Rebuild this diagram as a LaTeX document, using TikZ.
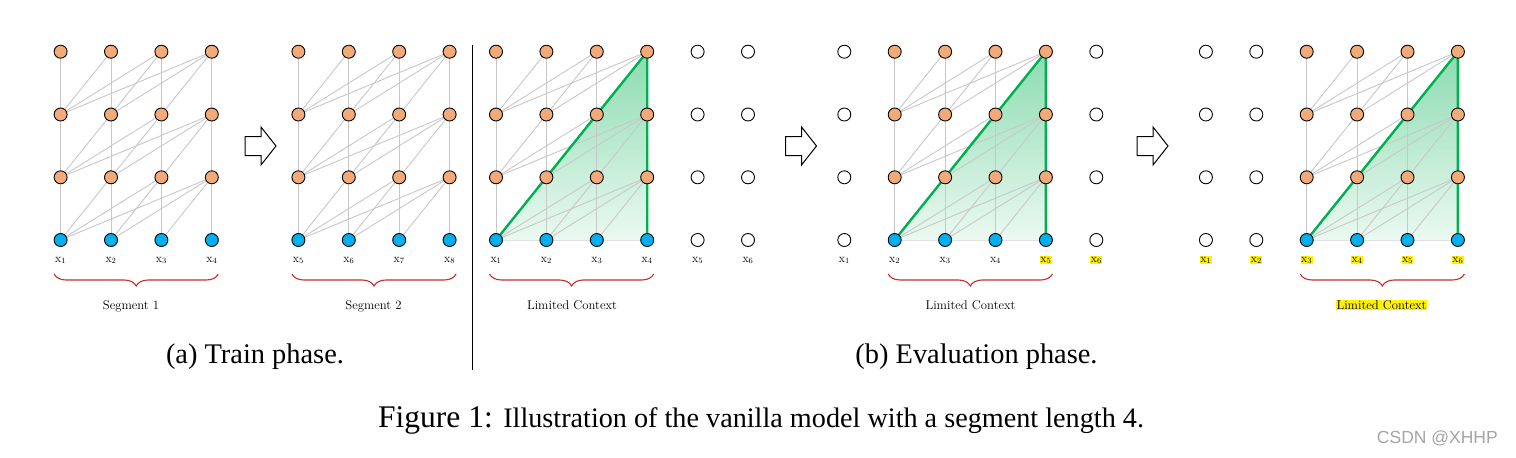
\documentclass[tikz,border=0pt]{standalone}
\usepackage{fontspec}
\usetikzlibrary{decorations.pathreplacing}
\newfontfamily\tms{Liberation Serif}
\newfontfamily\wmk{Liberation Sans}
\definecolor{nodeor}{RGB}{243,170,121}
\definecolor{nodebl}{RGB}{0,176,240}
\definecolor{edgegr}{RGB}{200,200,200}
\definecolor{ctxgreen}{RGB}{0,176,80}
\definecolor{bracered}{RGB}{200,45,45}
\definecolor{wmgray}{RGB}{165,165,165}
\pgfdeclarelayer{paper}
\pgfdeclarelayer{shade}
\pgfdeclarelayer{edges}
\pgfdeclarelayer{hl}
\pgfsetlayers{paper,shade,edges,hl,main}
\tikzset{
  hid/.style={circle,draw=black,line width=0.9pt,fill=nodeor,minimum size=13pt,inner sep=0pt},
  inp/.style={circle,draw=black,line width=0.9pt,fill=nodebl,minimum size=13pt,inner sep=0pt},
  emp/.style={circle,draw=black,line width=0.9pt,fill=white,minimum size=13pt,inner sep=0pt},
  edge/.style={draw=edgegr,line width=0.9pt},
  gline/.style={draw=ctxgreen,line width=2.4pt,line join=miter},
  ctxshade/.style={top color=ctxgreen!45!white,bottom color=ctxgreen!8!white,draw=none},
  lab/.style={inner sep=0.4pt,anchor=base,font=\fontsize{12}{14}\selectfont},
  hlab/.style={lab,fill=yellow},
  segbrace/.style={draw=bracered,line width=1.1pt,decorate,decoration={brace,mirror,amplitude=12pt}},
  seglab/.style={inner sep=0.5pt,anchor=base,font=\fontsize{12.7}{15}\selectfont},
  barrow/.style={draw=black,line width=1pt,fill=white,line join=miter},
  captxt/.style={inner sep=0pt,anchor=base,font=\tms\fontsize{28.4}{32}\selectfont},
}
% #1 name, #2 x0, #3 ncols, #4 first active col, #5 last active col
\newcommand{\mkpanel}[5]{%
  \foreach \c in {1,...,#3}{%
    \pgfmathsetmacro\xx{#2+(\c-1)*50.4}%
    \pgfmathtruncatemacro\act{and(\c>=#4,\c<=#5)}%
    \foreach \r/\yy in {1/240,2/177.3,3/114.5,4/51.7}{%
      \ifnum\act=1
        \ifnum\r=1
          \node[inp] (#1-\c-\r) at (\xx,\yy) {};
        \else
          \node[hid] (#1-\c-\r) at (\xx,\yy) {};
        \fi
      \else
        \node[emp] (#1-\c-\r) at (\xx,\yy) {};
      \fi
    }%
  }%
  \begin{pgfonlayer}{edges}
  \foreach \j in {#4,...,#5}{%
    \foreach \r in {1,2,3}{%
      \pgfmathtruncatemacro\rr{\r+1}%
      \foreach \i in {#4,...,\j}{%
        \draw[edge] (#1-\j-\rr.center) -- (#1-\i-\r.center);
      }%
    }%
  }%
  \end{pgfonlayer}
}
\newcommand{\ctx}[3]{% name, first col, last col
  \begin{pgfonlayer}{shade}
    \fill[ctxshade] (#1-#2-1.center) -- (#1-#3-4.center) -- (#1-#3-1.center) -- cycle;
  \end{pgfonlayer}
  \begin{pgfonlayer}{hl}
    \draw[gline] (#1-#2-1.center) -- (#1-#3-4.center) -- (#1-#3-1.center);
  \end{pgfonlayer}
}
\newcommand{\blockarrow}[2]{%
  \draw[barrow,shift={(#1,#2)}] (0,-9.5) -- (16,-9.5) -- (16,-19) -- (31,0) -- (16,19) -- (16,9.5) -- (0,9.5) -- cycle;
}
\begin{document}
\begin{tikzpicture}[x=1pt,y=-1pt]
\useasboundingbox (0,0) rectangle (1516,458);
\begin{pgfonlayer}{paper}
\fill[white] (0,0) rectangle (1516,458);
\end{pgfonlayer}

% ---------- panel A : segment 1 ----------
\mkpanel{A}{60.6}{4}{1}{4}
\foreach \c in {1,...,4}{ \node[lab] (A-l\c) at ([yshift=-22pt]A-\c-1.center) {$\mathrm{x}_{\c}$}; }
\coordinate (A-bl) at ([xshift=-6.5pt,yshift=-34pt]A-1-1.center);
\coordinate (A-br) at ([xshift=6.5pt,yshift=-34pt]A-4-1.center);
\draw[segbrace] (A-bl) -- (A-br);
\node[seglab] (A-seg) at (131,309) {Segment 1};

% ---------- panel B : segment 2 ----------
\mkpanel{B}{298.4}{4}{1}{4}
\foreach \c/\n in {1/5,2/6,3/7,4/8}{ \node[lab] (B-l\c) at ([yshift=-22pt]B-\c-1.center) {$\mathrm{x}_{\n}$}; }
\coordinate (B-bl) at ([xshift=-6.5pt,yshift=-34pt]B-1-1.center);
\coordinate (B-br) at ([xshift=6.5pt,yshift=-34pt]B-4-1.center);
\draw[segbrace] (B-bl) -- (B-br);
\node[seglab] (B-seg) at (373.5,309) {Segment 2};

% arrows
\blockarrow{245}{146}
\blockarrow{785.5}{146}
\blockarrow{1137}{146}

% separator
\draw[line width=0.9pt] (472,45) -- (472,370);

% ---------- panel C : eval step 1 ----------
\mkpanel{C}{496}{6}{1}{4}
\ctx{C}{1}{4}
\foreach \c in {1,...,6}{ \node[lab] (C-l\c) at ([yshift=-22pt]C-\c-1.center) {$\mathrm{x}_{\c}$}; }
\coordinate (C-bl) at ([xshift=-6.5pt,yshift=-34pt]C-1-1.center);
\coordinate (C-br) at ([xshift=6.5pt,yshift=-34pt]C-4-1.center);
\draw[segbrace] (C-bl) -- (C-br);
\node[seglab] (C-seg) at (572,309) {Limited Context};

% ---------- panel D : eval step 2 ----------
\mkpanel{D}{844.3}{6}{2}{5}
\ctx{D}{2}{5}
\foreach \c in {1,...,4}{ \node[lab] (D-l\c) at ([yshift=-22pt]D-\c-1.center) {$\mathrm{x}_{\c}$}; }
\foreach \c in {5,6}{ \node[hlab] (D-l\c) at ([yshift=-22pt]D-\c-1.center) {$\mathrm{x}_{\c}$}; }
\coordinate (D-bl) at ([xshift=-6.5pt,yshift=-34pt]D-2-1.center);
\coordinate (D-br) at ([xshift=6.5pt,yshift=-34pt]D-5-1.center);
\draw[segbrace] (D-bl) -- (D-br);
\node[seglab] (D-seg) at (970.5,309) {Limited Context};

% ---------- panel E : eval step 3 ----------
\mkpanel{E}{1205.9}{6}{3}{6}
\ctx{E}{3}{6}
\foreach \c in {1,...,6}{ \node[hlab] (E-l\c) at ([yshift=-22pt]E-\c-1.center) {$\mathrm{x}_{\c}$}; }
\coordinate (E-bl) at ([xshift=-6.5pt,yshift=-34pt]E-3-1.center);
\coordinate (E-br) at ([xshift=6.5pt,yshift=-34pt]E-6-1.center);
\draw[segbrace] (E-bl) -- (E-br);
\node[seglab,fill=yellow] (E-seg) at (1381.5,309) {Limited Context};

% ---------- captions ----------
\node[captxt] (capa) at (255,363) {(a) Train phase.};
\node[captxt] (capb) at (976.5,363) {(b) Evaluation phase.};
\node[inner sep=0pt,anchor=base west] (fig) at (378,427)
  {\tms\fontsize{31.5}{34}\selectfont Figure 1: \fontsize{28.2}{31}\selectfont Illustration of the vanilla model with a segment length 4.};
\node[inner sep=0pt,anchor=base east,text=wmgray,font=\wmk\fontsize{17.5}{20}\selectfont] (wm) at (1498,443) {CSDN @XHHP};
\end{tikzpicture}
\end{document}
